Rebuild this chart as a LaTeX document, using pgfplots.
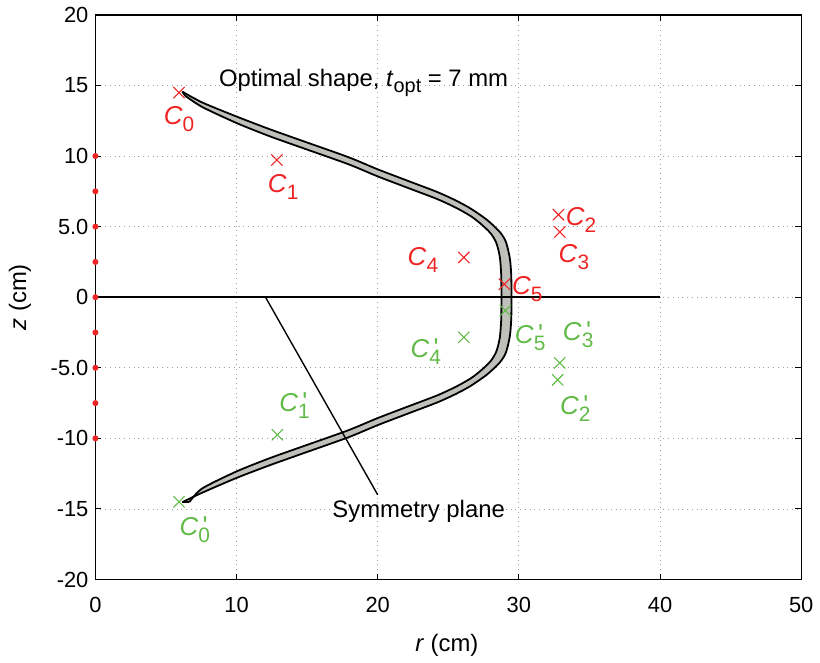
\documentclass[border=0pt]{standalone}
\usepackage{fontspec}
\setmainfont{Liberation Sans}
\usepackage{pgfplots}
\pgfplotsset{compat=1.18}
\definecolor{mred}{RGB}{238,36,36}
\definecolor{mgreen}{RGB}{96,186,70}
\definecolor{shell}{RGB}{192,192,186}
\newcommand{\sub}[1]{\raisebox{-3.6pt}{\fontsize{10.5}{11}\selectfont #1}}
\newcommand{\Cl}[1]{\textit{C}\sub{#1}}
\newcommand{\Cp}[1]{\textit{C}\rlap{\,\raisebox{0.5pt}{\textquotesingle}}\sub{#1}}
\begin{document}
\begin{tikzpicture}
\begin{axis}[
  scale only axis, width=355pt, height=284pt,
  xmin=0, xmax=50, ymin=-20, ymax=20,
  xtick={0,10,20,30,40,50},
  ytick={-20,-15,-10,-5,0,5,10,15,20},
  yticklabels={-20,-15,-10,-5.0,0,5.0,10,15,20},
  /pgf/number format/assume math mode=true,
  tick label style={font=\fontsize{11}{13}\selectfont},
  xticklabel style={yshift=-5.5pt},
  tick align=inside, major tick length=3pt,
  tick style={black, line width=0.5pt},
  grid=major, major grid style={dotted, gray!75, line width=0.45pt},
  axis line style={line width=0.7pt},
  xlabel={\textit{r} (cm)}, ylabel={\textit{z} (cm)},
  label style={font=\fontsize{12}{14}\selectfont},
  xlabel style={at={(axis description cs:0.498,-0.116)}, anchor=center},
  ylabel style={at={(axis description cs:-0.107,0.5)}, anchor=center},
  clip=false,
]
% shell cross-section: fill
\addplot[draw=none, fill=shell, smooth, tension=0.45] coordinates {
 (6.15,14.57) (7.56,13.8) (10,12.8) (12.3,11.92) (14.6,11.1) (17.9,9.93) (20,9.06) (22.2,8.22) (24.2,7.46) (25.5,6.87) (26.57,6.29) (27.75,5.47) (28.64,4.63) (29.08,3.92) (29.36,2.75) (29.46,1.5) (29.47,0)
 (29.46,-1.5) (29.36,-2.75) (29.08,-3.92) (28.64,-4.63) (27.75,-5.47) (26.57,-6.29) (25.5,-6.87) (24.2,-7.46) (22.2,-8.22) (20,-9.06) (17.9,-9.93) (14.6,-11.1) (12.3,-11.92) (10,-12.8) (7.56,-13.85) (6.15,-14.52)
 (6.65,-14.52) (7.56,-13.55) (10,-12.34) (12.3,-11.42) (14.6,-10.6) (17.9,-9.43) (20,-8.56) (22.2,-7.72) (24.2,-6.96) (25.5,-6.36) (26.57,-5.76) (27.3,-5.2) (27.98,-4.55) (28.4,-3.85) (28.65,-2.85) (28.75,-1.5) (28.76,0)
 (28.75,1.5) (28.65,2.85) (28.4,3.85) (27.98,4.55) (27.3,5.2) (26.57,5.76) (25.5,6.36) (24.2,6.96) (22.2,7.72) (20,8.56) (17.9,9.43) (14.6,10.6) (12.3,11.42) (10,12.34) (7.56,13.48) (6.35,14.28) (6.15,14.57)
};
% outer boundary
\addplot[black, line width=0.9pt, smooth, tension=0.45] coordinates {
 (6.15,14.57) (7.56,13.8) (10,12.8) (12.3,11.92) (14.6,11.1) (17.9,9.93) (20,9.06) (22.2,8.22) (24.2,7.46) (25.5,6.87) (26.57,6.29) (27.75,5.47) (28.64,4.63) (29.08,3.92) (29.36,2.75) (29.46,1.5) (29.47,0)
 (29.46,-1.5) (29.36,-2.75) (29.08,-3.92) (28.64,-4.63) (27.75,-5.47) (26.57,-6.29) (25.5,-6.87) (24.2,-7.46) (22.2,-8.22) (20,-9.06) (17.9,-9.93) (14.6,-11.1) (12.3,-11.92) (10,-12.8) (7.56,-13.85) (6.15,-14.52)
};
% inner boundary
\addplot[black, line width=0.9pt, smooth, tension=0.45] coordinates {
 (6.35,14.28) (7.56,13.48) (10,12.34) (12.3,11.42) (14.6,10.6) (17.9,9.43) (20,8.56) (22.2,7.72) (24.2,6.96) (25.5,6.36) (26.57,5.76) (27.3,5.2) (27.98,4.55) (28.4,3.85) (28.65,2.85) (28.75,1.5) (28.76,0)
 (28.75,-1.5) (28.65,-2.85) (28.4,-3.85) (27.98,-4.55) (27.3,-5.2) (26.57,-5.76) (25.5,-6.36) (24.2,-6.96) (22.2,-7.72) (20,-8.56) (17.9,-9.43) (14.6,-10.6) (12.3,-11.42) (10,-12.34) (7.56,-13.55) (6.65,-14.52)
};
% end caps
\addplot[black, line width=0.9pt] coordinates {(6.15,14.57) (6.35,14.28)};
\addplot[black, line width=0.9pt] coordinates {(6.15,-14.52) (6.65,-14.52)};
% symmetry plane lines
\addplot[black, line width=0.8pt] coordinates {(0,0) (40,0)};
\addplot[black, line width=0.7pt] coordinates {(12.05,0) (20,-14.0)};
% red dots on axis
\addplot[only marks, mark=*, mark size=1.3pt, color=mred] coordinates {
 (0,-10) (0,-7.5) (0,-5) (0,-2.5) (0,0) (0,2.5) (0,5) (0,7.5) (0,10)};
% control points
\addplot[only marks, mark=x, mark size=4pt, color=mred, line width=0.55pt] coordinates {
 (5.92,14.5) (12.85,9.72) (32.8,5.85) (32.9,4.62) (26.1,2.82) (28.97,0.92)};
\addplot[only marks, mark=x, mark size=4pt, color=mgreen, line width=0.55pt] coordinates {
 (5.92,-14.5) (12.89,-9.74) (32.75,-5.85) (32.9,-4.65) (26.1,-2.84) (29.04,-0.94)};
% labels
\begin{scope}[every node/.style={font=\fontsize{13}{14}\selectfont, inner sep=0pt}]
\node[mred] at (axis cs:5.92,12.6) {\Cl{0}};
\node[mred] at (axis cs:13.3,7.8) {\Cl{1}};
\node[mred] at (axis cs:34.4,5.5) {\Cl{2}};
\node[mred] at (axis cs:33.9,2.85) {\Cl{3}};
\node[mred] at (axis cs:23.2,2.65) {\Cl{4}};
\node[mred] at (axis cs:30.6,0.6) {\Cl{5}};
\node[mgreen] at (axis cs:7.04,-16.5) {\Cp{0}};
\node[mgreen] at (axis cs:14.1,-7.7) {\Cp{1}};
\node[mgreen] at (axis cs:34.0,-7.9) {\Cp{2}};
\node[mgreen] at (axis cs:34.2,-2.65) {\Cp{3}};
\node[mgreen] at (axis cs:23.4,-3.85) {\Cp{4}};
\node[mgreen] at (axis cs:30.8,-2.85) {\Cp{5}};
\end{scope}
\begin{scope}[every node/.style={font=\fontsize{12}{14}\selectfont, inner sep=0pt}]
\node[black] at (axis cs:19.0,15.15) {Optimal shape, \textit{t}\raisebox{-3pt}{\fontsize{10}{11}\selectfont opt} = 7 mm};
\node[black] at (axis cs:22.9,-15.2) {Symmetry plane};
\end{scope}
\end{axis}
\path[use as bounding box] (current axis.south west) +(-48pt,-35.5pt) rectangle +(362pt,291.5pt);
\end{tikzpicture}
\end{document}
